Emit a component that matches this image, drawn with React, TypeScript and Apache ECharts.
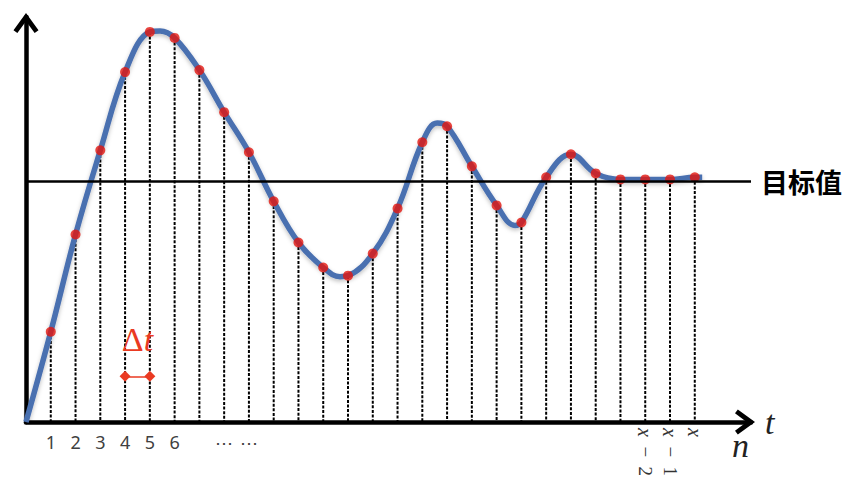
import React, { useEffect, useRef } from "react";
import * as echarts from "echarts";

// Sample instants n = 1..27 and sampled values (target value = 1)
const sampleN = [1, 2, 3, 4, 5, 6, 7, 8, 9, 10, 11, 12, 13, 14, 15, 16, 17, 18, 19, 20, 21, 22, 23, 24, 25, 26, 27];
const sampleValues = [
  0.375, 0.779, 1.129, 1.454, 1.621, 1.596, 1.4625, 1.2875, 1.121, 0.917, 0.746, 0.642, 0.608, 0.7,
  0.8875, 1.1625, 1.229, 1.0625, 0.9, 0.829, 1.017, 1.1125, 1.033, 1.008, 1.008, 1.008, 1.017,
];

// Continuous response curve
const curveT = [0, 1, 2, 3, 4, 5, 5.41, 6, 7, 8, 9, 10, 11, 12, 12.68, 13, 14, 15, 16, 16.6, 17, 18, 19, 19.74, 20, 21, 22, 23, 24, 25, 26, 27, 27.3];
const curveV = [0, 0.375, 0.779, 1.129, 1.454, 1.621, 1.625, 1.596, 1.4625, 1.2875, 1.121, 0.917, 0.746, 0.642, 0.604, 0.608, 0.7, 0.8875, 1.1625, 1.242, 1.229, 1.0625, 0.9, 0.817, 0.829, 1.017, 1.1125, 1.033, 1.008, 1.008, 1.008, 1.017, 1.017];

const targetValue = 1;
const targetLabel = "目标值";

// Tick labels
const plainTickValues = [1, 2, 3, 4, 5, 6, 8, 9];
const plainTickLabels = ["1", "2", "3", "4", "5", "6", "⋯", "⋯"];
const lastTickValues = [25, 26, 27];
const lastTickLabels = ["{i|x}  −  2", "{i|x}  −  1", "{i|x}"];

// Δt marker between samples 4 and 5
const deltaFrom = 4;
const deltaTo = 5;
const deltaLevel = 0.19;

const xMax = 29.27;
const yMax = 1.683;

const chevron = "path://M12 0 L24 16.5 L20.3 19.2 L12 8 L3.7 19.2 L0 16.5 Z";

export default function App() {
  const ref = useRef<HTMLDivElement>(null);
  useEffect(() => {
    if (!ref.current) return;
    const chart = echarts.init(ref.current, undefined, { renderer: "svg" });
    const samples = sampleN.map((n, i) => [n, sampleValues[i]]);
    const curve = curveT.map((t, i) => [t, curveV[i]]);
    const axisLine = {
      show: true,
      lineStyle: { color: "#000", width: 4.5 },
      symbol: ["none", chevron],
      symbolSize: [25, 21],
      symbolOffset: [0, -6],
    };
    chart.setOption({
      animation: false,
      backgroundColor: "#fff",
      grid: { left: 26, right: 104, top: 17, bottom: 66 },
      xAxis: [
        {
          type: "value",
          min: 0,
          max: xMax,
          interval: 1,
          axisLine,
          axisTick: { show: false },
          splitLine: { show: false },
          axisLabel: {
            margin: 11,
            fontSize: 18,
            color: "#404040",
            fontFamily: "Noto Sans",
            showMaxLabel: false,
            formatter: (v: number) => {
              const k = plainTickValues.indexOf(v);
              return k >= 0 ? plainTickLabels[k] : "";
            },
          },
          name: "t",
          nameLocation: "end",
          nameGap: 14,
          nameTextStyle: {
            fontFamily: "Liberation Serif",
            fontStyle: "italic",
            fontSize: 34,
            color: "#222",
            padding: [4, 0, 0, 0],
          },
        },
        {
          type: "value",
          min: 0,
          max: xMax,
          interval: 1,
          position: "bottom",
          axisLine: { show: false },
          axisTick: { show: false },
          splitLine: { show: false },
          axisLabel: {
            rotate: -90,
            margin: 6,
            fontSize: 19,
            color: "#333",
            fontFamily: "Liberation Serif",
            showMaxLabel: false,
            formatter: (v: number) => {
              const k = lastTickValues.indexOf(v);
              return k >= 0 ? lastTickLabels[k] : "";
            },
            rich: {
              i: { fontFamily: "Liberation Serif", fontStyle: "italic", fontSize: 20, color: "#333" },
            },
          },
        },
      ],
      yAxis: {
        type: "value",
        min: 0,
        max: yMax,
        axisLine,
        axisTick: { show: false },
        axisLabel: { show: false },
        splitLine: { show: false },
      },
      graphic: [
        {
          type: "text",
          left: 732,
          top: 428,
          style: {
            text: "n",
            font: "italic 34px 'Liberation Serif'",
            fill: "#222",
          },
        },
      ],
      series: [
        {
          type: "custom",
          z: 1,
          renderItem: (params: any, api: any) => {
            const top = api.coord([api.value(0), api.value(1)]);
            const bottom = api.coord([api.value(0), 0]);
            return {
              type: "line",
              shape: { x1: top[0], y1: top[1], x2: bottom[0], y2: bottom[1] },
              style: { stroke: "#000", lineWidth: 2, lineDash: [3, 1.6] },
            };
          },
          data: samples,
          markLine: {
            silent: true,
            symbol: "none",
            lineStyle: { color: "#000", width: 2.5, type: "solid" },
            label: {
              show: true,
              position: "end",
              distance: 10,
              formatter: targetLabel,
              fontSize: 27,
              fontWeight: "bold",
              color: "#000",
              fontFamily: "Noto Sans CJK SC",
            },
            data: [{ yAxis: targetValue }],
          },
        },
        {
          type: "line",
          z: 2,
          data: curve,
          smooth: 0.4,
          showSymbol: false,
          lineStyle: {
            color: "#4a6fb0",
            width: 5.5,
            shadowColor: "rgba(0,0,0,0.25)",
            shadowBlur: 4,
            shadowOffsetY: 2,
          },
        },
        {
          type: "scatter",
          z: 3,
          data: samples,
          symbolSize: 10,
          itemStyle: { color: "#e3170f" },
          markLine: {
            silent: true,
            symbol: ["diamond", "diamond"],
            symbolSize: 11,
            lineStyle: { color: "#ea3a22", width: 1.5, type: "solid" },
            label: {
              show: true,
              position: "middle",
              distance: 20,
              fontSize: 34,
              fontFamily: "Liberation Serif",
              color: "#ea3a22",
              formatter: "{d|Δ}{t|t}",
              rich: {
                d: { fontFamily: "Liberation Serif", fontSize: 34, color: "#ea3a22" },
                t: { fontFamily: "Liberation Serif", fontStyle: "italic", fontSize: 34, color: "#ea3a22" },
              },
            },
            data: [[{ coord: [deltaFrom, deltaLevel] }, { coord: [deltaTo, deltaLevel] }]],
          },
        },
      ],
    });
    return () => chart.dispose();
  }, []);
  return <div ref={ref} style={{ position: "fixed", left: 0, top: 0, width: 855, height: 488 }} />;
}
